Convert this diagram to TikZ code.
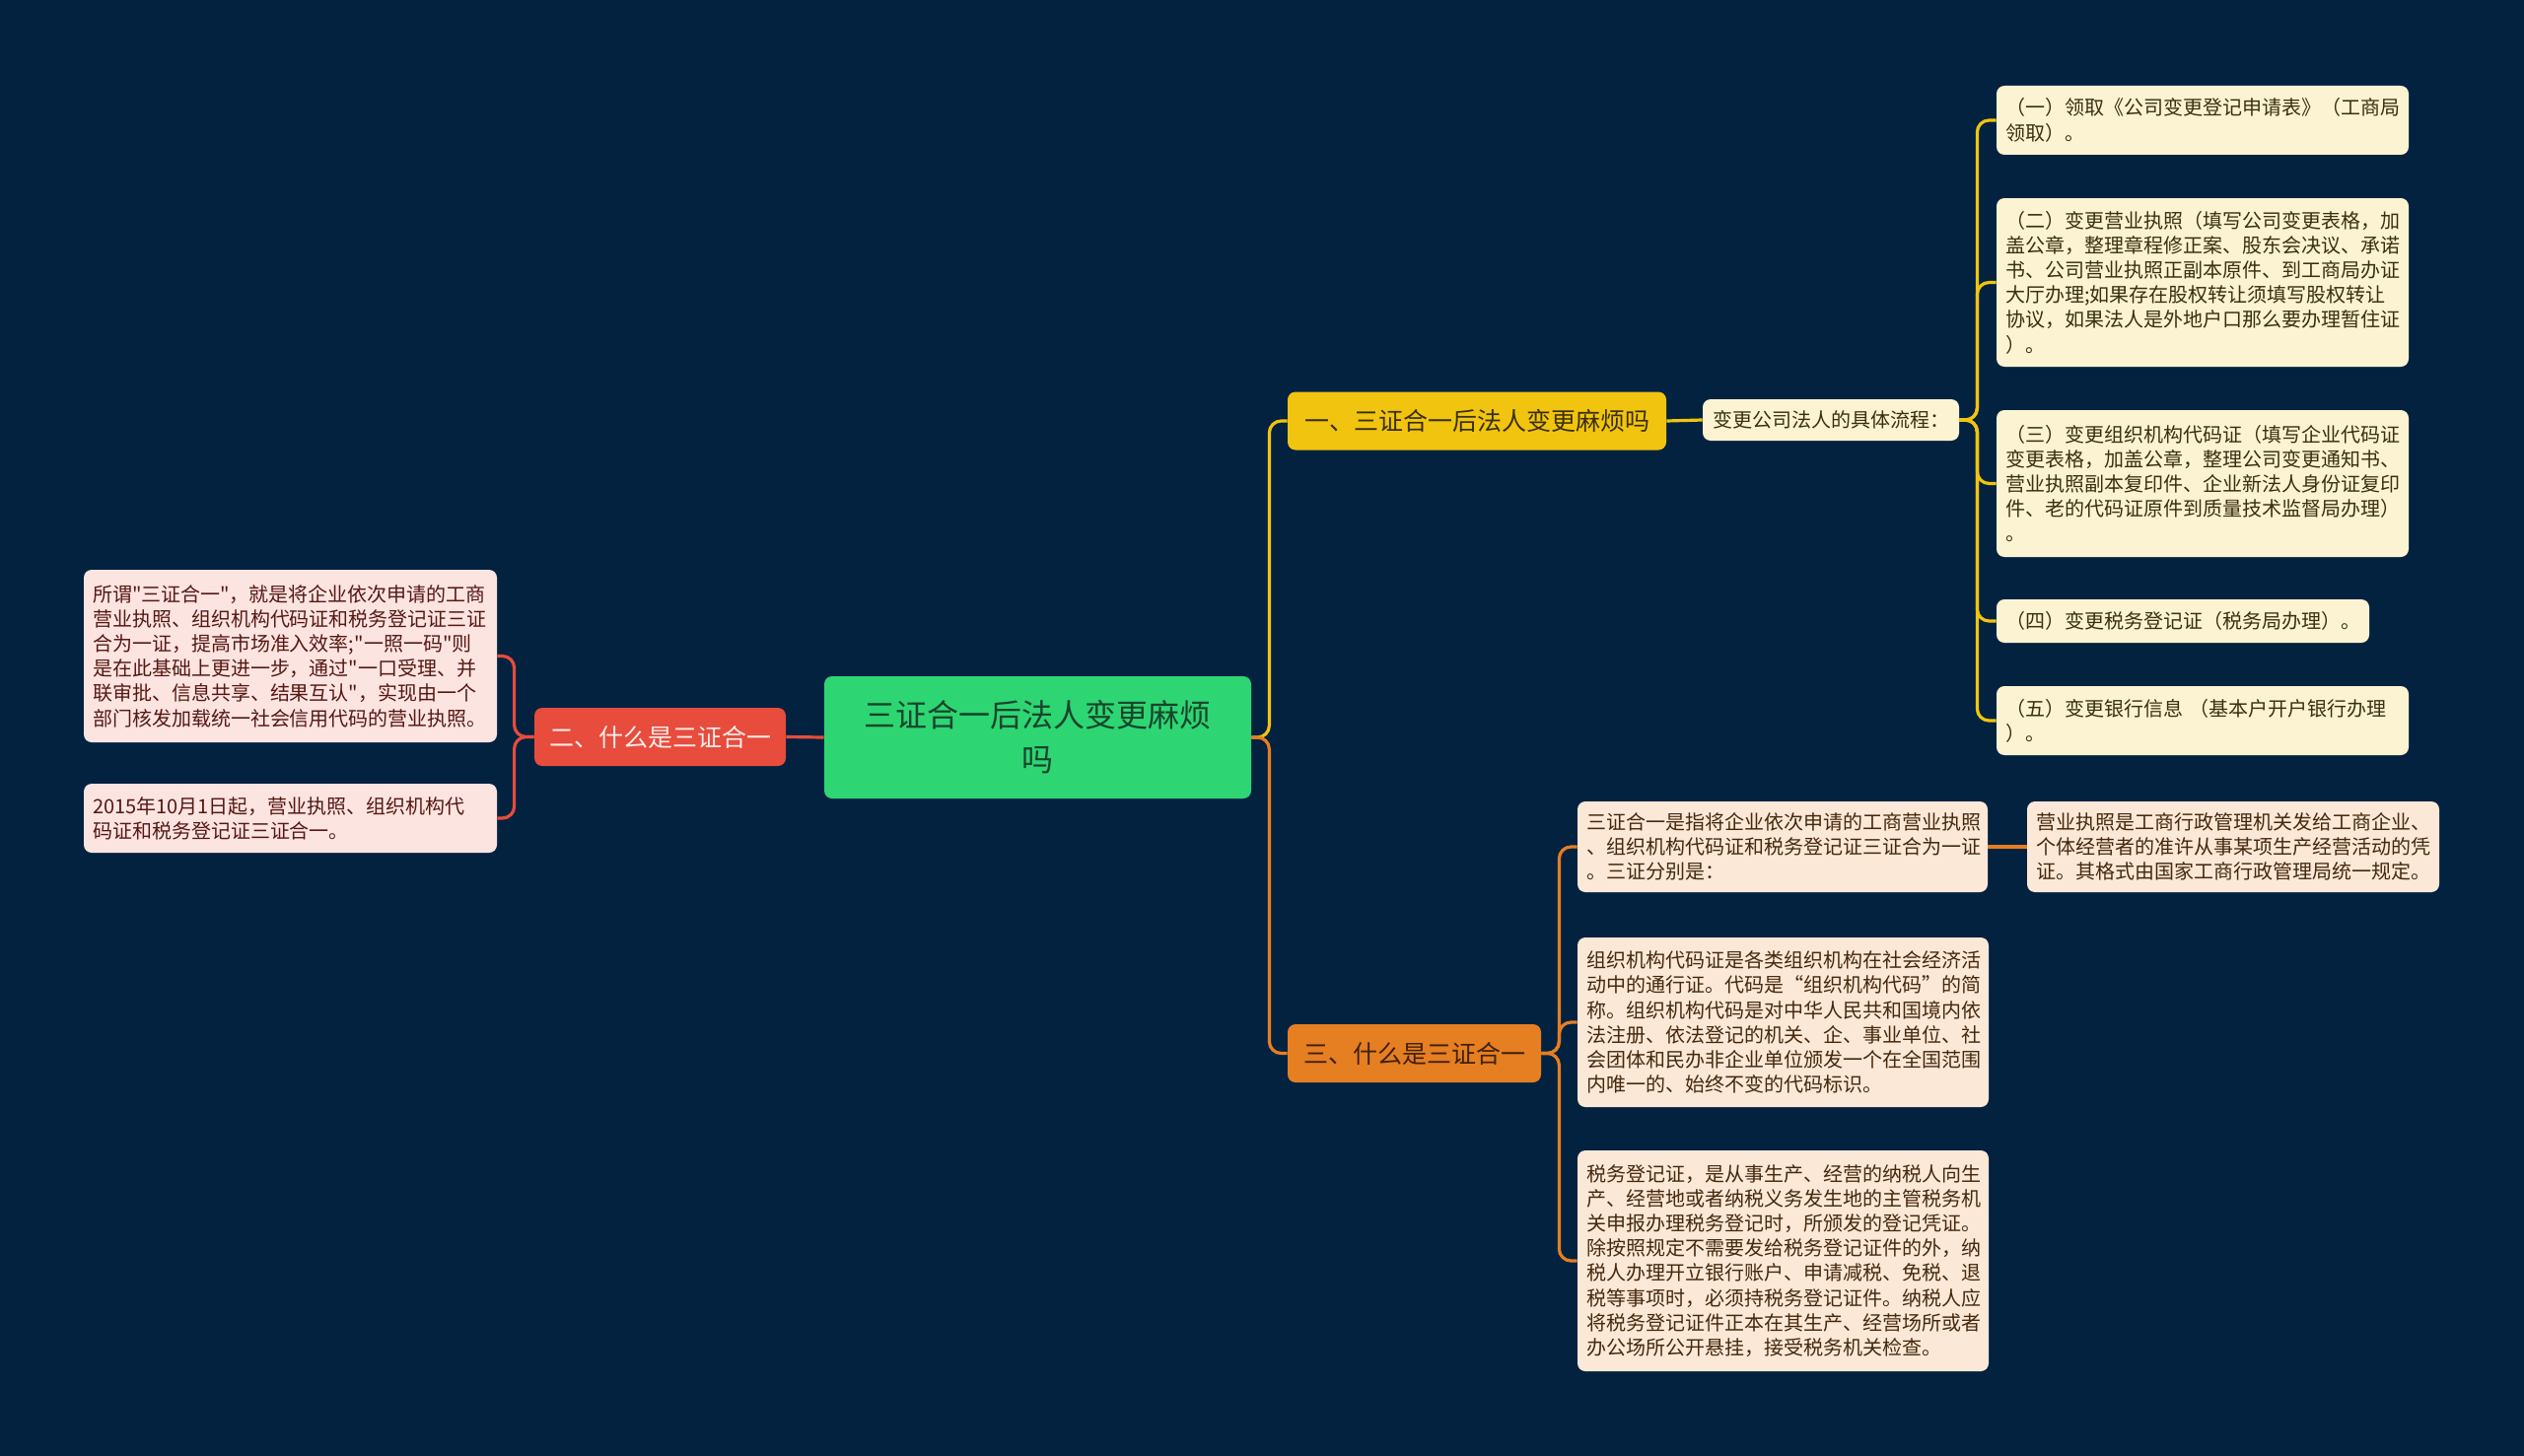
\documentclass[tikz,border=0pt]{standalone}
\usepackage{fontspec}
\setmainfont{Noto Sans CJK SC}[Ligatures=TeXOff]
\definecolor{bg}{HTML}{032240}
\definecolor{rootfill}{HTML}{2ED573}
\definecolor{roottext}{HTML}{17452B}
\definecolor{yel}{HTML}{F1C40F}
\definecolor{yeltext}{HTML}{3A2F08}
\definecolor{yleaf}{HTML}{FCF3D2}
\definecolor{yleaftext}{HTML}{3A2F10}
\definecolor{redc}{HTML}{E74C3C}
\definecolor{redtext}{HTML}{FDECEA}
\definecolor{rleaf}{HTML}{FCE4E1}
\definecolor{rleaftext}{HTML}{561812}
\definecolor{ora}{HTML}{E67E22}
\definecolor{oratext}{HTML}{3F2108}
\definecolor{oleaf}{HTML}{FBE8D7}
\definecolor{oleaftext}{HTML}{45280E}
\begin{document}
\begin{tikzpicture}[x=0.5pt,y=-0.5pt,
  every node/.style={inner ysep=0pt, rounded corners=4pt},
  rootbox/.style={fill=rootfill, text=roottext, align=center, font=\fontsize{16}{22.5}\selectfont, minimum width=216.5pt, minimum height=62pt},
  branchbox/.style={font=\fontsize{12.5}{15}\selectfont, minimum height=29.5pt},
  leafbase/.style={font=\fontsize{10}{12.6}\selectfont, align=left, inner xsep=4.5pt},
  yleafbox/.style={leafbase, fill=yleaf, text=yleaftext},
  rleafbox/.style={leafbase, fill=rleaf, text=rleaftext},
  oleafbox/.style={leafbase, fill=oleaf, text=oleaftext},
  conn/.style={line width=1.6pt, rounded corners=6pt},
]
\fill[bg] (0,0) rectangle (2560,1477);
\useasboundingbox (0,0) rectangle (2560,1477);

% root
\node[rootbox] (root) at (1052.5,748) {三证合一后法人变更麻烦\\吗};

% branch 1
\node[branchbox, fill=yel, text=yeltext, minimum width=192pt] (b1) at (1498,427) {一、三证合一后法人变更麻烦吗};
\node[yleafbox, minimum width=130pt, minimum height=21pt] (flow) at (1857,426) {变更公司法人的具体流程：};
\node[yleafbox, text width=200pt, minimum height=35pt] (y1) at (2234,122) {（一）领取《公司变更登记申请表》（工商局\\领取）。};
\node[yleafbox, text width=200pt, minimum height=85.5pt] (y2) at (2234,286.5) {（二）变更营业执照（填写公司变更表格，加\\盖公章，整理章程修正案、股东会决议、承诺\\书、公司营业执照正副本原件、到工商局办证\\大厅办理;如果存在股权转让须填写股权转让\\协议，如果法人是外地户口那么要办理暂住证\\）。};
\node[yleafbox, text width=200pt, minimum height=74.5pt] (y3) at (2234,490.5) {（三）变更组织机构代码证（填写企业代码证\\变更表格，加盖公章，整理公司变更通知书、\\营业执照副本复印件、企业新法人身份证复印\\件、老的代码证原件到质量技术监督局办理）\\。};
\node[yleafbox, text width=180pt, minimum height=22pt] (y4) at (2214,630) {（四）变更税务登记证（税务局办理）。};
\node[yleafbox, text width=200pt, minimum height=35pt] (y5) at (2234,731) {（五）变更银行信息 （基本户开户银行办理\\）。};

% branch 2
\node[branchbox, fill=redc, text=redtext, minimum width=127.5pt] (b2) at (669.5,747.5) {二、什么是三证合一};
\node[rleafbox, text width=200.5pt, minimum height=87.5pt] (l1) at (294.5,665.5) {所谓"三证合一"，就是将企业依次申请的工商\\营业执照、组织机构代码证和税务登记证三证\\合为一证，提高市场准入效率;"一照一码"则\\是在此基础上更进一步，通过"一口受理、并\\联审批、信息共享、结果互认"，实现由一个\\部门核发加载统一社会信用代码的营业执照。};
\node[rleafbox, text width=200.5pt, minimum height=35pt] (l2) at (294.5,830) {2015年10月1日起，营业执照、组织机构代\\码证和税务登记证三证合一。};

% branch 3
\node[branchbox, fill=ora, text=oratext, minimum width=128.5pt] (b3) at (1434.5,1068.5) {三、什么是三证合一};
\node[oleafbox, text width=199pt, minimum height=46pt] (oA) at (1808,859) {三证合一是指将企业依次申请的工商营业执照\\、组织机构代码证和税务登记证三证合为一证\\。三证分别是：};
\node[oleafbox, text width=200pt, minimum height=46pt] (oB) at (2265,859) {营业执照是工商行政管理机关发给工商企业、\\个体经营者的准许从事某项生产经营活动的凭\\证。其格式由国家工商行政管理局统一规定。};
\node[oleafbox, text width=199.5pt, minimum height=86pt] (oC) at (1808.5,1037) {组织机构代码证是各类组织机构在社会经济活\\动中的通行证。代码是“组织机构代码”的简\\称。组织机构代码是对中华人民共和国境内依\\法注册、依法登记的机关、企、事业单位、社\\会团体和民办非企业单位颁发一个在全国范围\\内唯一的、始终不变的代码标识。};
\node[oleafbox, text width=199.5pt, minimum height=112pt] (oD) at (1808.5,1279) {税务登记证，是从事生产、经营的纳税人向生\\产、经营地或者纳税义务发生地的主管税务机\\关申报办理税务登记时，所颁发的登记凭证。\\除按照规定不需要发给税务登记证件的外，纳\\税人办理开立银行账户、申请减税、免税、退\\税等事项时，必须持税务登记证件。纳税人应\\将税务登记证件正本在其生产、经营场所或者\\办公场所公开悬挂，接受税务机关检查。};

% connectors
\draw[conn, draw=yel] (root.east) -- ++(18,0) |- (b1.west);
\draw[conn, draw=ora] (root.east) -- ++(18,0) |- (b3.west);
\draw[conn, draw=redc] (root.west) -- (b2.east);

\draw[conn, draw=yel] (b1.east) -- (flow.west);
\foreach \c in {y1,y2,y3,y4,y5}
  \draw[conn, draw=yel] (flow.east) -- ++(18,0) |- (\c.west);

\foreach \c in {l1,l2}
  \draw[conn, draw=redc] (b2.west) -- ++(-20,0) |- (\c.east);

\foreach \c in {oA,oC,oD}
  \draw[conn, draw=ora] (b3.east) -- ++(18,0) |- (\c.west);
\draw[conn, draw=ora] (oA.east) -- (oB.west);
\end{tikzpicture}
\end{document}
